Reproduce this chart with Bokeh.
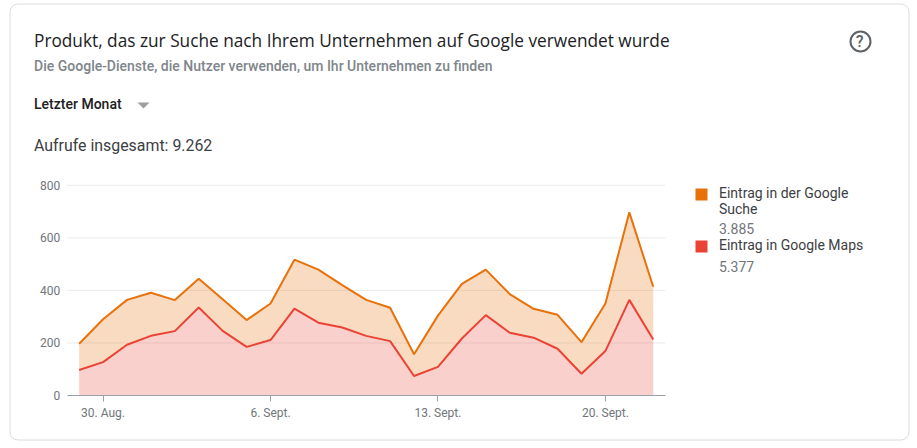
from bokeh.embed import file_html
from bokeh.resources import INLINE
from bokeh.plotting import figure
from bokeh.models import Label, BoxAnnotation, PolyAnnotation, FixedTicker, ColumnDataSource, LinearAxis

W, H = 917, 448

# Data
days = list(range(25))  # 29 Aug .. 22 Sept
maps = [97, 127, 193, 227, 245, 335, 246, 185, 211, 331, 277, 259, 227, 207, 74, 109, 217, 306, 239, 220, 178, 83, 169, 364, 213]
total = [197, 290, 364, 391, 363, 444, 366, 287, 350, 517, 479, 420, 364, 334, 157, 304, 425, 479, 386, 330, 307, 203, 350, 697, 414]
y_ticks = [0, 200, 400, 600, 800]
x_ticks = [1, 8, 15, 22]
x_tick_labels = ["30. Aug.", "6. Sept.", "13. Sept.", "20. Sept."]
title = "Produkt, das zur Suche nach Ihrem Unternehmen auf Google verwendet wurde"
subtitle = "Die Google-Dienste, die Nutzer verwenden, um Ihr Unternehmen zu finden"
period = "Letzter Monat"
total_text = "Aufrufe insgesamt: 9.262"
ORANGE, RED = "#E8710A", "#EA4335"

# Plot area in page pixels; ranges are derived so the frame can span the page.
LEFT, RIGHT, TOP, BOTTOM = 66.7, 664.7, 184.8, 395.0
kx = (RIGHT - LEFT) / 25
ky = (BOTTOM - TOP) / 800
x_start = -0.5 - LEFT / kx
x_end = 24.5 + (W - RIGHT) / kx
y_start = -(H - BOTTOM) / ky
y_end = BOTTOM / ky

src = ColumnDataSource(dict(x=days, maps=maps, total=total, zero=[0] * len(days)))

p = figure(width=W, height=H, output_backend="svg", toolbar_location=None,
           x_range=(x_start, x_end), y_range=(y_start, y_end),
           x_axis_location=None, y_axis_location=None,
           min_border=0, outline_line_color=None, background_fill_color="white", border_fill_color="white")
p.grid.visible = False


def sbox(l, r, t, b, **kw):
    return BoxAnnotation(left=l, right=r, top=H - t, bottom=H - b,
                         left_units="screen", right_units="screen", top_units="screen", bottom_units="screen",
                         line_alpha=1, **kw)


p.add_layout(sbox(9.5, 908.5, 3.5, 439.5, fill_color="white", fill_alpha=1, line_color="#dadce0",
                  line_width=1, border_radius=8, level="underlay"))

for t in y_ticks[1:]:
    p.segment(x0=[-0.5], x1=[24.5], y0=[t], y1=[t], line_color="#ebebeb", line_width=1)

ax = LinearAxis(fixed_location=-0.5, ticker=FixedTicker(ticks=y_ticks), axis_line_color=None,
                major_tick_line_color=None, minor_tick_line_color=None,
                major_label_text_font="Roboto", major_label_text_font_size="12px",
                major_label_text_color="#70757a", major_label_standoff=1)
p.add_layout(ax, "left")

bx = LinearAxis(fixed_location=0, ticker=FixedTicker(ticks=x_ticks), bounds=(-0.5, 24.5),
                major_label_overrides=dict(zip(x_ticks, x_tick_labels)),
                axis_line_color="#9aa0a6", major_tick_line_color="#9aa0a6", major_tick_in=0, major_tick_out=6,
                minor_tick_line_color=None, major_label_text_font="Roboto", major_label_text_font_size="12px",
                major_label_text_color="#70757a", major_label_standoff=4)
p.add_layout(bx, "below")

p.varea(x="x", y1="maps", y2="total", source=src, fill_color=ORANGE, fill_alpha=0.25)
p.varea(x="x", y1="zero", y2="maps", source=src, fill_color=RED, fill_alpha=0.25)
p.line(x="x", y="total", source=src, line_color=ORANGE, line_width=2)
p.line(x="x", y="maps", source=src, line_color=RED, line_width=2)


def txt(x, y, s, size, color, font="Roboto", style="normal"):
    p.add_layout(Label(x=x, y=H - y, x_units="screen", y_units="screen", text=s, text_font=font,
                       text_font_size=f"{size}px", text_color=color, text_font_style=style,
                       text_baseline="middle"))


txt(33.5, 39.5, title, 17.25, "#202124", font="Open Sans")
txt(33.5, 65, subtitle, 14, "#80868b", font="Roboto Medium")
txt(33.5, 103.5, period, 14, "#202124", font="Roboto Medium")
txt(33.5, 145, total_text, 15.9, "#3c4043")

p.add_layout(PolyAnnotation(xs=[137, 149, 143], ys=[H - 102, H - 102, H - 108], xs_units="screen", ys_units="screen",
                            fill_color="#9e9e9e", fill_alpha=1, line_color=None))

p.add_layout(sbox(850, 870, 31, 51, fill_color=None, fill_alpha=0, line_color="#5f6368", line_width=2, border_radius=10))
txt(855.2, 40.5, "?", 16, "#5f6368", font="Roboto Medium")

p.add_layout(sbox(695, 707, 188, 200, fill_color=ORANGE, fill_alpha=1, line_color=None))
p.add_layout(sbox(695, 707, 240, 252, fill_color=RED, fill_alpha=1, line_color=None))
txt(718.5, 192.5, "Eintrag in der Google", 14, "#3c4043")
txt(718.5, 208.5, "Suche", 14, "#3c4043")
txt(718.5, 227.5, "3.885", 14, "#70757a")
txt(718.5, 244.5, "Eintrag in Google Maps", 14, "#3c4043")
txt(718.5, 265.5, "5.377", 14, "#70757a")

open("out.html", "w").write(file_html(p, INLINE))
